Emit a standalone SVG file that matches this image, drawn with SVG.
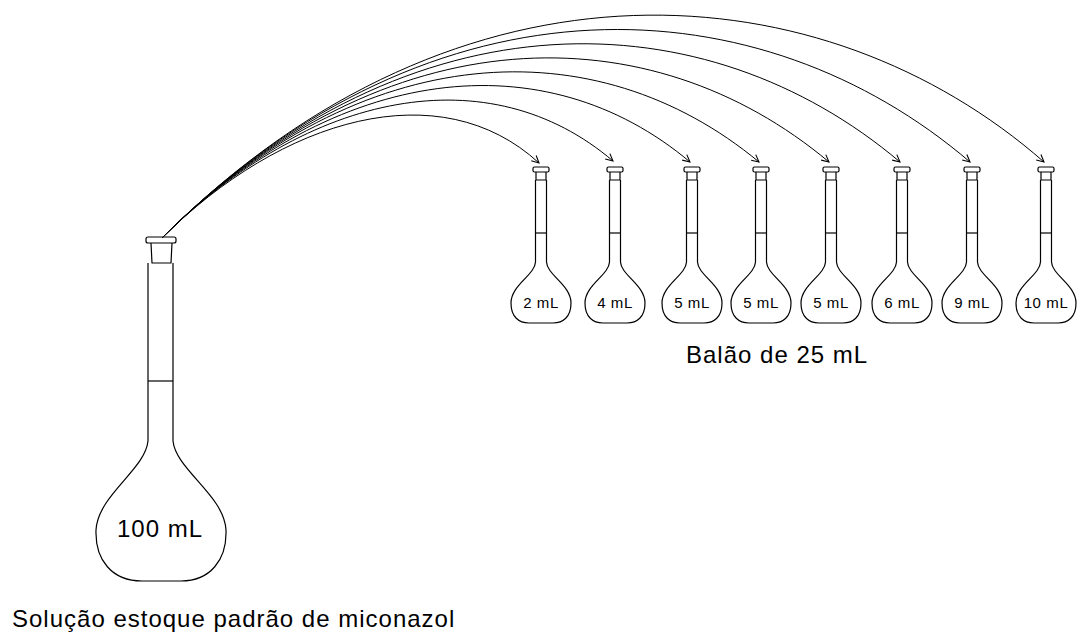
<svg xmlns="http://www.w3.org/2000/svg" xmlns:xlink="http://www.w3.org/1999/xlink" width="1078" height="637" viewBox="0 0 1078 637">
  <style>
    .glass { fill: none; stroke: #000; stroke-width: 1.2; stroke-linejoin: round; }
    .transfer { fill: none; stroke: #000; stroke-width: 1; }
    .lbl { font-family: "Liberation Sans", Arial, sans-serif; fill: #000; }
    .vol-small { font-size: 15px; letter-spacing: 0.6px; text-anchor: middle; }
    .vol-big { font-size: 24px; letter-spacing: 1px; text-anchor: middle; }
    .caption { font-size: 24px; letter-spacing: 1px; }
  </style>
  <defs>
    <marker id="head" viewBox="0 0 10 10" refX="9" refY="5" markerWidth="9" markerHeight="9" markerUnits="userSpaceOnUse" orient="auto">
      <path d="M1,1 L9,5 L1,9" fill="none" stroke="#000" stroke-width="1.2"/>
    </marker>
    <!-- 25 mL volumetric flask, origin at top centre of the stopper -->
    <g id="smallFlask" class="glass">
      <rect x="-8" y="0" width="16" height="5" rx="1.5"/>
      <path d="M-5,5 V13 H5 V5"/>
      <path d="M-5.5,13 V95 C-6,108 -30,118 -30,136 C-30,150 -22,156 -12,156 H12 C22,156 30,150 30,136 C30,118 6,108 5.5,95 V13"/>
      <path d="M-5.5,66 H5.5"/>
    </g>
  </defs>

  <!-- stock solution flask (100 mL) -->
  <g id="stock-flask">
    <g class="glass">
      <rect x="146" y="237" width="30" height="6" rx="2"/>
      <path d="M151,243 L152,263 H171 L172,243"/>
      <path d="M148,263 V441 C145,470 98,495 96,530 C95,560 112,581 142,581 H181 C210,581 227,560 226,530 C224,495 176,470 173,441 V263"/>
      <path d="M148,381 H173"/>
    </g>
    <text class="lbl vol-big" x="160" y="537">100 mL</text>
    <text class="lbl caption" x="12" y="627">Solução estoque padrão de miconazol</text>
  </g>

  <!-- 25 mL flasks -->
  <g id="flask-2ml"><use xlink:href="#smallFlask" x="541" y="167"/><text class="lbl vol-small" x="541" y="308">2 mL</text></g>
  <g id="flask-4ml"><use xlink:href="#smallFlask" x="615" y="167"/><text class="lbl vol-small" x="615" y="308">4 mL</text></g>
  <g id="flask-5ml-a"><use xlink:href="#smallFlask" x="692" y="167"/><text class="lbl vol-small" x="692" y="308">5 mL</text></g>
  <g id="flask-5ml-b"><use xlink:href="#smallFlask" x="761" y="167"/><text class="lbl vol-small" x="761" y="308">5 mL</text></g>
  <g id="flask-5ml-c"><use xlink:href="#smallFlask" x="831" y="167"/><text class="lbl vol-small" x="831" y="308">5 mL</text></g>
  <g id="flask-6ml"><use xlink:href="#smallFlask" x="902" y="167"/><text class="lbl vol-small" x="902" y="308">6 mL</text></g>
  <g id="flask-9ml"><use xlink:href="#smallFlask" x="972" y="167"/><text class="lbl vol-small" x="972" y="308">9 mL</text></g>
  <g id="flask-10ml"><use xlink:href="#smallFlask" x="1046" y="167"/><text class="lbl vol-small" x="1046" y="308">10 mL</text></g>

  <g id="flask-group-label">
    <text class="lbl caption" x="686" y="363">Balão de 25 mL</text>
  </g>

  <!-- aliquot transfers from the stock flask -->
  <g id="connectors" class="transfer" marker-end="url(#head)">
    <path d="M162,238 C282,118 440,72 539,163"/>
    <path d="M162,238 C310,90 490,56 613,161"/>
    <path d="M162,238 C337,63 545,40 690,162"/>
    <path d="M162,238 C362,38 595,26 759,162"/>
    <path d="M162,238 C387,13 650,12 829,162"/>
    <path d="M162,238 C412,-12 706,-2 900,162"/>
    <path d="M162,238 C437,-37 762,-16 970,162"/>
    <path d="M162,238 C462,-62 825,-30 1044,162"/>
  </g>
</svg>
